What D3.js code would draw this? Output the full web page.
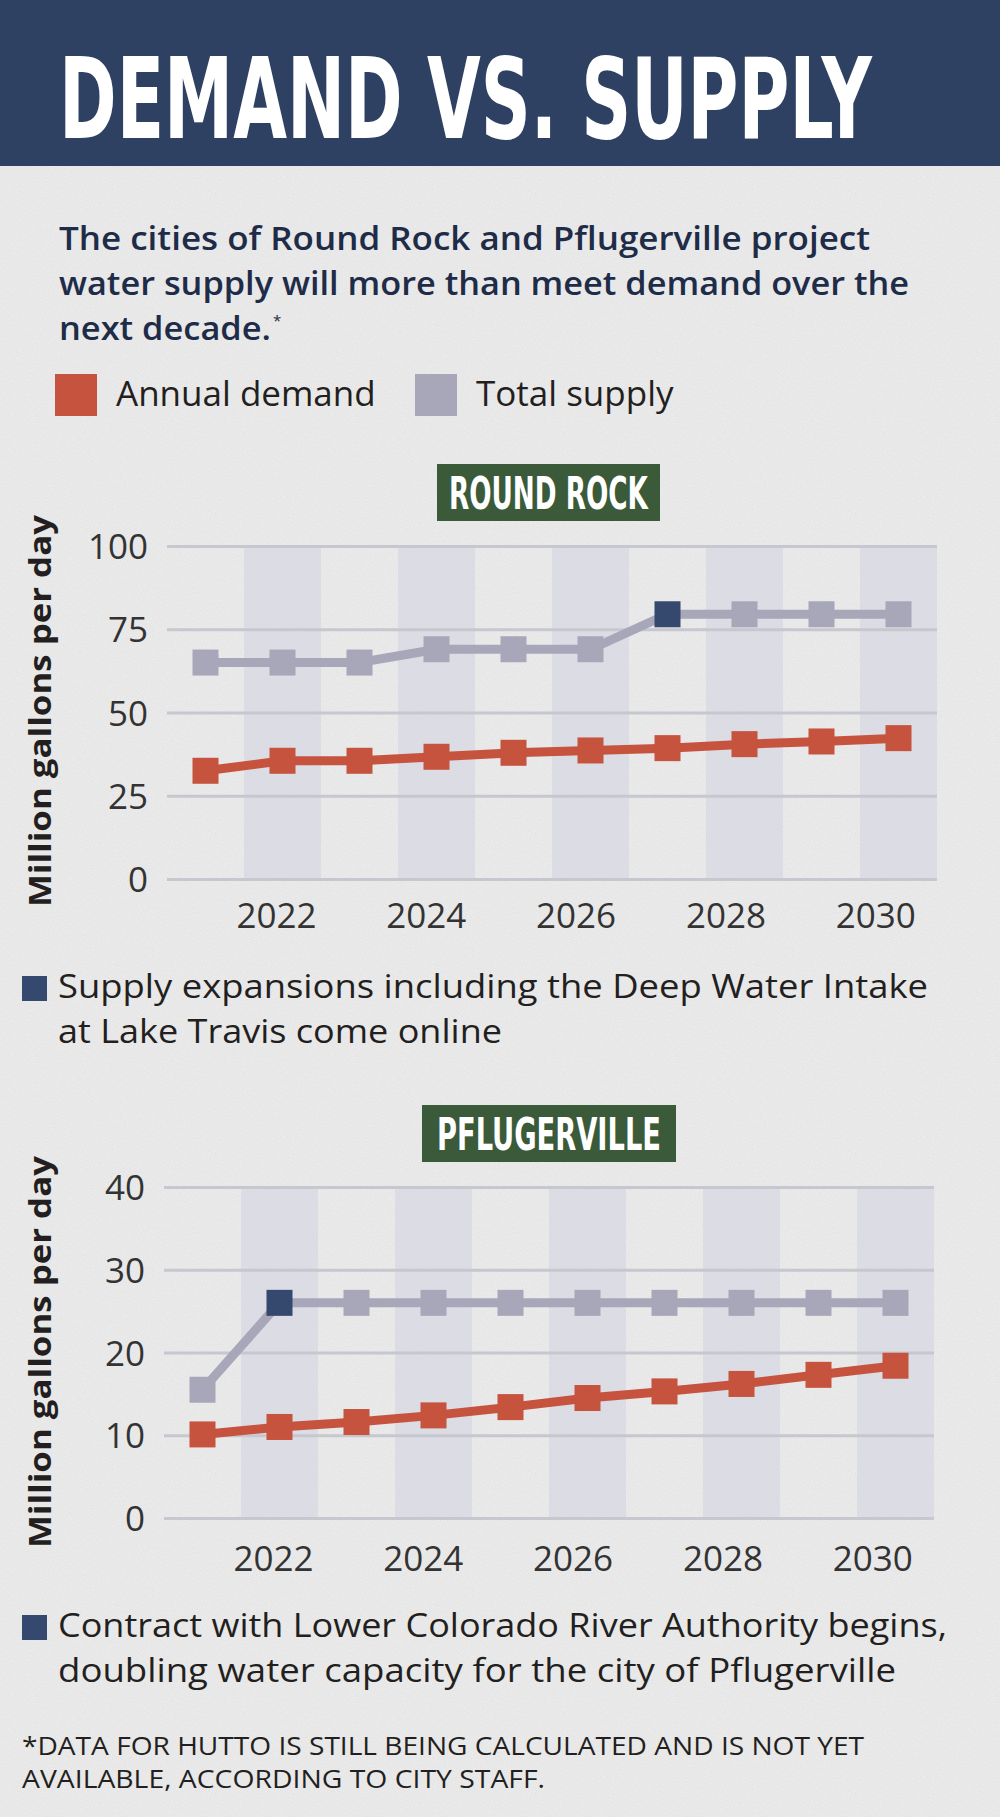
<!DOCTYPE html>
<html>
<head>
<meta charset="utf-8">
<script src="https://cdn.jsdelivr.net/npm/d3@7"></script>
<style>
  html, body { margin: 0; padding: 0; background: #f0f0f0; }
  svg { display: block; }
  .tick text { font-family: "Open Sans", sans-serif; fill: #333; }
</style>
</head>
<body>
<svg id="chart" width="1000" height="1817"></svg>
<script>
// data
var YEARS = [2021, 2022, 2023, 2024, 2025, 2026, 2027, 2028, 2029, 2030];
var YEAR_TICKS = [2022, 2024, 2026, 2028, 2030];

var RR_DEMAND = [32.5, 35.5, 35.5, 36.7, 37.9, 38.6, 39.3, 40.5, 41.3, 42.3];
var RR_SUPPLY = [65, 65, 65, 69, 69, 69, 79.5, 79.5, 79.5, 79.5];
var RR_TICKS = [0, 25, 50, 75, 100];

var PF_DEMAND = [10.1, 11.0, 11.6, 12.4, 13.4, 14.5, 15.3, 16.2, 17.3, 18.4];
var PF_SUPPLY = [15.5, 26, 26, 26, 26, 26, 26, 26, 26, 26];
var PF_TICKS = [0, 10, 20, 30, 40];

var SUBTITLE = [
  "The cities of Round Rock and Pflugerville project",
  "water supply will more than meet demand over the",
  "next decade."
];
var LEGEND = ["Annual demand", "Total supply"];
var RR_NOTE = ["Supply expansions including the Deep Water Intake", "at Lake Travis come online"];
var PF_NOTE = ["Contract with Lower Colorado River Authority begins,", "doubling water capacity for the city of Pflugerville"];
var FOOTNOTE = ["*DATA FOR HUTTO IS STILL BEING CALCULATED AND IS NOT YET", "AVAILABLE, ACCORDING TO CITY STAFF."];

var COLORS = {
  header: '#2f4162',
  navy: '#1e2c48',
  demand: '#c6533d',
  supply: '#a8a7b9',
  highlight: '#34496d',
  label: '#3a5a39',
  grid: '#c6c7cf',
  band: '#cfd1e0',
  text: '#231f20'
};

var svg = d3.select('#chart');
var W = 1000, H = 1817;

// background texture
var defs = svg.append('defs');
var grain = defs.append('filter').attr('id', 'grain')
  .attr('x', 0).attr('y', 0).attr('width', '100%').attr('height', '100%');
grain.append('feTurbulence')
  .attr('type', 'fractalNoise')
  .attr('baseFrequency', 0.8)
  .attr('numOctaves', 2)
  .attr('seed', 4);
grain.append('feColorMatrix')
  .attr('type', 'matrix')
  .attr('values', '0.33 0.33 0.33 0 0  0.33 0.33 0.33 0 0  0.33 0.33 0.33 0 0  0 0 0 0 0.13');

svg.append('rect').attr('width', W).attr('height', H).attr('fill', '#efefef');
svg.append('rect').attr('width', W).attr('height', H).attr('filter', 'url(#grain)');

// header
svg.append('rect').attr('width', W).attr('height', 166).attr('fill', COLORS.header);
var title = svg.append('text')
  .attr('font-family', '"Liberation Sans Narrow", "DejaVu Sans Condensed", sans-serif')
  .attr('font-weight', 700)
  .attr('font-size', 112)
  .attr('fill', '#fff')
  .text('DEMAND VS. SUPPLY');
var titleW = title.node().getComputedTextLength();
title.attr('transform', 'translate(59,138) scale(' + (813 / titleW) + ',1)');

// subtitle
var subLines = [{y: 250, len: 811}, {y: 295, len: 850}, {y: 340, len: 212}];
SUBTITLE.forEach(function (line, i) {
  svg.append('text')
    .attr('x', 59).attr('y', subLines[i].y)
    .attr('font-family', '"Open Sans", sans-serif')
    .attr('font-weight', 600)
    .attr('font-size', 32)
    .attr('fill', COLORS.navy)
    .attr('textLength', subLines[i].len)
    .attr('lengthAdjust', 'spacingAndGlyphs')
    .text(line);
});
svg.append('text')
  .attr('x', 59 + 214).attr('y', 326)
  .attr('font-family', '"Open Sans", sans-serif')
  .attr('font-size', 15)
  .attr('fill', COLORS.navy)
  .text('*');

// legend
var legendX = [55, 415];
var legendColors = [COLORS.demand, COLORS.supply];
LEGEND.forEach(function (label, i) {
  svg.append('rect')
    .attr('x', legendX[i]).attr('y', 374)
    .attr('width', 42).attr('height', 42)
    .attr('fill', legendColors[i]);
  svg.append('text')
    .attr('x', legendX[i] + 61).attr('y', 406)
    .attr('font-family', '"Open Sans", sans-serif')
    .attr('font-size', 35)
    .attr('fill', COLORS.text)
    .text(label);
});

function drawChart(cfg) {
  var g = svg.append('g');

  var x = d3.scaleBand().domain(YEARS).range([cfg.left, cfg.right]);
  var y = d3.scaleLinear().domain([0, cfg.max]).range([cfg.bottom, cfg.top]);
  var cx = function (yr) { return x(yr) + x.bandwidth() / 2; };

  // alternating columns
  g.selectAll('.band')
    .data(YEARS.filter(function (d) { return d % 2 === 0; }))
    .enter().append('rect')
      .attr('class', 'band')
      .attr('x', function (d) { return x(d); })
      .attr('y', y(cfg.max))
      .attr('width', x.bandwidth())
      .attr('height', y(0) - y(cfg.max))
      .attr('fill', COLORS.band)
      .attr('opacity', 0.55);

  // y axis + gridlines
  var yAxis = g.append('g')
    .attr('transform', 'translate(' + cfg.left + ',0)')
    .call(d3.axisLeft(y).tickValues(cfg.ticks).tickSize(-(cfg.right - cfg.left)).tickPadding(19));
  yAxis.select('.domain').remove();
  yAxis.selectAll('.tick line').attr('stroke', COLORS.grid).attr('stroke-width', 3);
  yAxis.selectAll('.tick text')
    .attr('font-size', 35)
    .attr('fill', '#3a3a3a')
    .attr('dy', '0.36em');

  // x axis
  var xAxis = g.append('g')
    .attr('transform', 'translate(0,' + cfg.bottom + ')')
    .call(d3.axisBottom(x).tickValues(YEAR_TICKS).tickSize(0));
  xAxis.select('.domain').remove();
  xAxis.selectAll('.tick text')
    .attr('font-size', 35)
    .attr('fill', '#2a2a2a')
    .attr('y', cfg.labelGap)
    .attr('dy', 0)
    .attr('dx', function (d) { return -6 - (d - 2022) * 2.1; });

  // y title
  g.append('text')
    .attr('transform', 'translate(' + 51 + ',' + cfg.titleY + ') rotate(-90)')
    .attr('text-anchor', 'middle')
    .attr('font-family', '"Open Sans", sans-serif')
    .attr('font-weight', 700)
    .attr('font-size', 30)
    .attr('fill', COLORS.text)
    .attr('textLength', 392)
    .attr('lengthAdjust', 'spacingAndGlyphs')
    .text('Million gallons per day');

  // series
  var line = d3.line()
    .x(function (d, i) { return cx(YEARS[i]); })
    .y(function (d) { return y(d); });

  [{values: cfg.supply, color: COLORS.supply, hi: cfg.highlight},
   {values: cfg.demand, color: COLORS.demand, hi: -1}].forEach(function (s) {
    g.append('path')
      .datum(s.values)
      .attr('d', line)
      .attr('fill', 'none')
      .attr('stroke', s.color)
      .attr('stroke-width', 9);
    g.selectAll(null)
      .data(s.values)
      .enter().append('rect')
        .attr('x', function (d, i) { return cx(YEARS[i]) - 13; })
        .attr('y', function (d) { return y(d) - 13; })
        .attr('width', 26)
        .attr('height', 26)
        .attr('fill', function (d, i) { return i === s.hi ? COLORS.highlight : s.color; });
  });

  // city label
  g.append('rect')
    .attr('x', cfg.box[0]).attr('y', cfg.box[1])
    .attr('width', cfg.box[2]).attr('height', cfg.box[3])
    .attr('fill', COLORS.label);
  var lbl = g.append('text')
    .attr('font-family', '"Liberation Sans Narrow", "DejaVu Sans Condensed", sans-serif')
    .attr('font-weight', 700)
    .attr('font-size', 45)
    .attr('fill', '#fff')
    .text(cfg.name);
  var lw = lbl.node().getComputedTextLength();
  lbl.attr('transform', 'translate(' + (cfg.box[0] + (cfg.box[2] - cfg.labelLen) / 2) + ','
    + (cfg.box[1] + cfg.box[3] - 12) + ') scale(' + (cfg.labelLen / lw) + ',1)');

  // note under the chart
  g.append('rect')
    .attr('x', 22).attr('y', cfg.noteY - 22)
    .attr('width', 25).attr('height', 25)
    .attr('fill', COLORS.highlight);
  cfg.note.forEach(function (t, i) {
    g.append('text')
      .attr('x', 58).attr('y', cfg.noteY + i * 45)
      .attr('font-family', '"Open Sans", sans-serif')
      .attr('font-size', 33)
      .attr('fill', COLORS.text)
      .attr('textLength', cfg.noteLen[i])
      .attr('lengthAdjust', 'spacingAndGlyphs')
      .text(t);
  });
}

drawChart({
  name: 'ROUND ROCK', box: [437, 464, 223, 57], labelLen: 199,
  left: 167, right: 937, top: 546, bottom: 879, max: 100, ticks: RR_TICKS,
  labelGap: 49, titleY: 711,
  demand: RR_DEMAND, supply: RR_SUPPLY, highlight: 6,
  note: RR_NOTE, noteY: 998, noteLen: [870, 444]
});

drawChart({
  name: 'PFLUGERVILLE', box: [422, 1105, 254, 57], labelLen: 224,
  left: 164, right: 934, top: 1187, bottom: 1518, max: 40, ticks: PF_TICKS,
  labelGap: 53, titleY: 1352,
  demand: PF_DEMAND, supply: PF_SUPPLY, highlight: 1,
  note: PF_NOTE, noteY: 1637, noteLen: [889, 838]
});

// footnote
FOOTNOTE.forEach(function (t, i) {
  svg.append('text')
    .attr('x', 22).attr('y', 1755 + i * 33)
    .attr('font-family', '"Open Sans", sans-serif')
    .attr('font-size', 25)
    .attr('fill', COLORS.text)
    .attr('textLength', i === 0 ? 842 : 523)
    .attr('lengthAdjust', 'spacingAndGlyphs')
    .text(t);
});
</script>
</body>
</html>
